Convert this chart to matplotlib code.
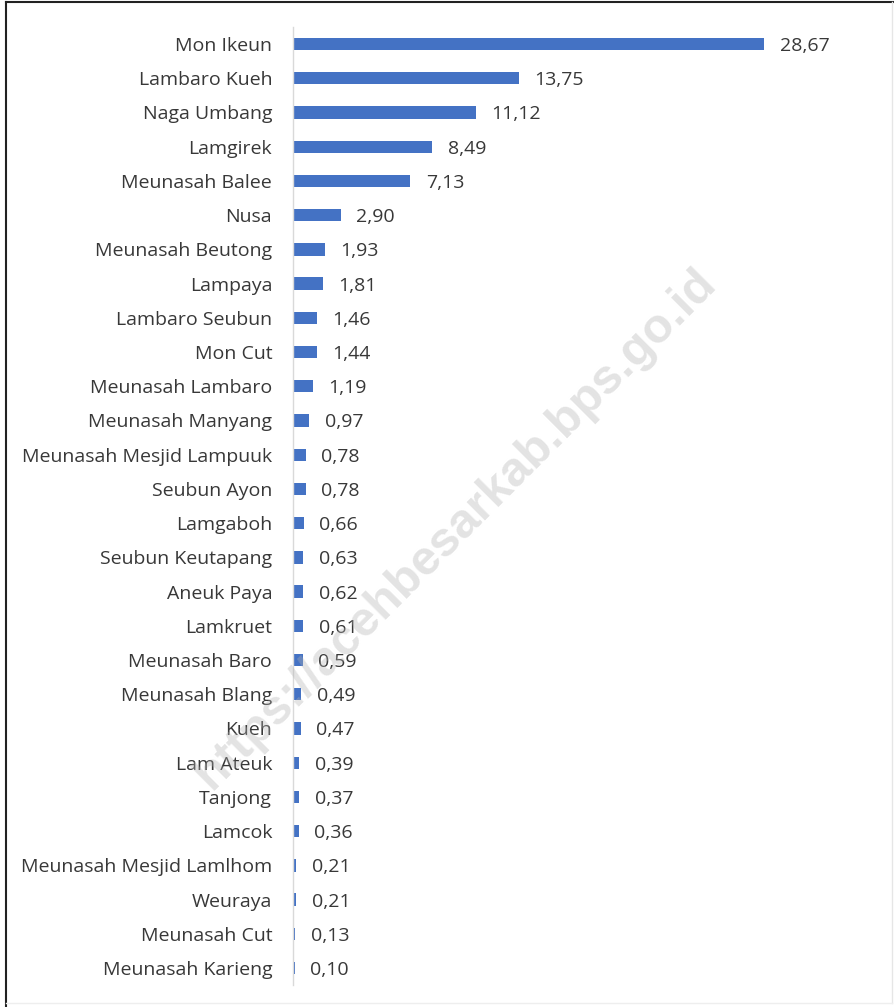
import matplotlib.pyplot as plt
from matplotlib.lines import Line2D

villages = [
    "Mon Ikeun", "Lambaro Kueh", "Naga Umbang", "Lamgirek", "Meunasah Balee",
    "Nusa", "Meunasah Beutong", "Lampaya", "Lambaro Seubun", "Mon Cut",
    "Meunasah Lambaro", "Meunasah Manyang", "Meunasah Mesjid Lampuuk",
    "Seubun Ayon", "Lamgaboh", "Seubun Keutapang", "Aneuk Paya", "Lamkruet",
    "Meunasah Baro", "Meunasah Blang", "Kueh", "Lam Ateuk", "Tanjong",
    "Lamcok", "Meunasah Mesjid Lamlhom", "Weuraya", "Meunasah Cut",
    "Meunasah Karieng",
]
values = [
    28.67, 13.75, 11.12, 8.49, 7.13, 2.90, 1.93, 1.81, 1.46, 1.44,
    1.19, 0.97, 0.78, 0.78, 0.66, 0.63, 0.62, 0.61, 0.59, 0.49,
    0.47, 0.39, 0.37, 0.36, 0.21, 0.21, 0.13, 0.10,
]

plt.rcParams['font.family'] = ['Open Sans', 'DejaVu Sans']
text_color = '#383838'

fig = plt.figure(figsize=(8.94, 10.07), dpi=100)
ax = fig.add_axes([0.3277, 0.0217, 0.645, 0.9516])

pos = list(range(len(villages)))
ax.barh(pos, values, height=0.36, color='#4472C4')
for p, v in zip(pos, values):
    ax.text(v + 0.95, p, f"{v:.2f}".replace('.', ','), va='center_baseline',
            ha='left', fontsize=14, color=text_color)

ax.set_yticks(pos)
ax.set_yticklabels(villages, fontsize=14, color=text_color, va='center_baseline')
ax.tick_params(axis='y', length=0, pad=15)
ax.set_xticks([])
ax.set_ylim(len(villages) - 0.5, -0.5)
ax.set_xlim(0, 35.1)
for side in ['top', 'right', 'bottom']:
    ax.spines[side].set_visible(False)
ax.spines['left'].set_color('#d9d9d9')
ax.spines['left'].set_linewidth(1)

# frame: dark on left and top, faint on right and bottom
tf = fig.transFigure
fig.lines.append(Line2D([0.007, 0.007], [0, 0.998], transform=tf, color='#222222', lw=1.5))
fig.lines.append(Line2D([0.007, 1], [0.998, 0.998], transform=tf, color='#222222', lw=1.5))
fig.lines.append(Line2D([0.998, 0.998], [0.004, 0.998], transform=tf, color='#e6e6e6', lw=1))
fig.lines.append(Line2D([0.007, 0.998], [0.004, 0.004], transform=tf, color='#eeeeee', lw=1))

# watermark
fig.text(0.510, 0.475, "https://acehbesarkab.bps.go.id", rotation=45,
         ha='center', va='center', fontsize=35, fontweight='bold',
         family='Liberation Sans', color='#b0b0b0', alpha=0.35)

fig.savefig('out.png', dpi=100)
